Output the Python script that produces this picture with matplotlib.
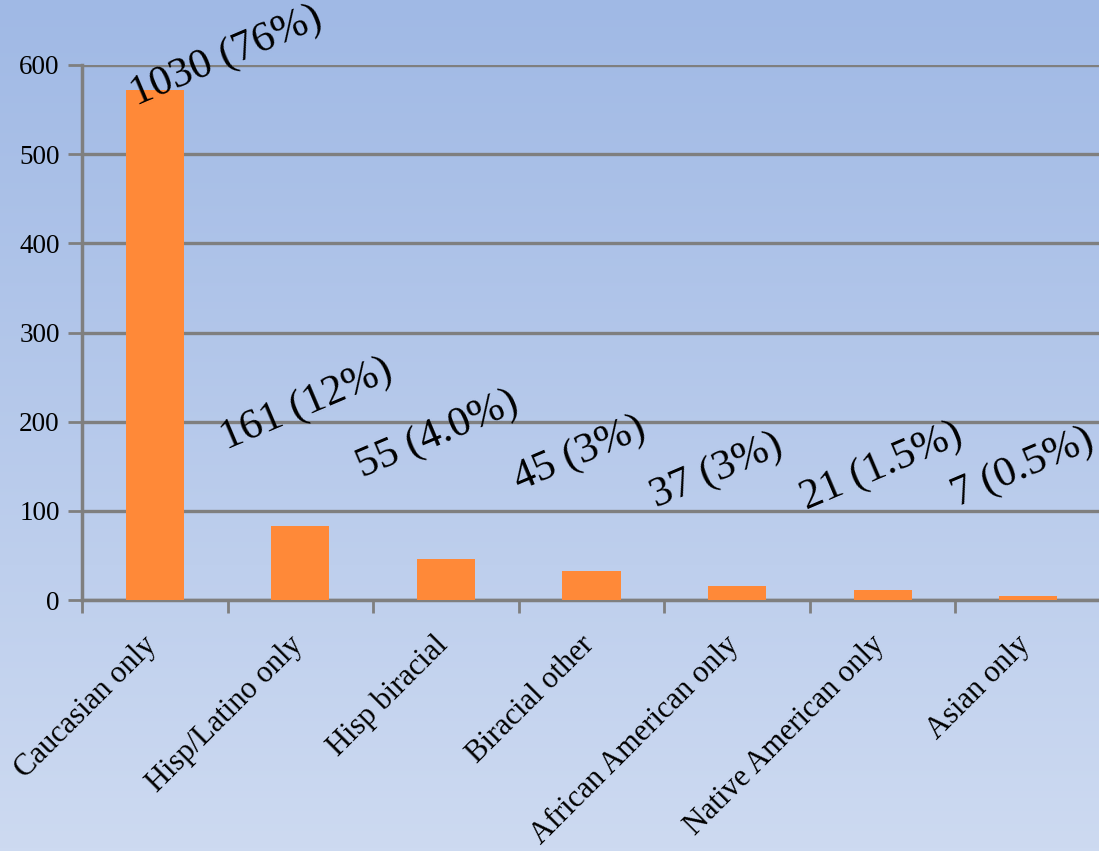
import numpy as np
import matplotlib
matplotlib.use("Agg")
import matplotlib.pyplot as plt
from matplotlib.colors import LinearSegmentedColormap
from matplotlib.transforms import ScaledTranslation

# ---- data ----
categories = ["Caucasian only", "Hisp/Latino only", "Hisp biracial", "Biracial other",
              "African American only", "Native American only", "Asian only"]
values = [572, 83, 46, 32.5, 15.7, 11.5, 4.5]
labels = ["1030 (76%)", "161 (12%)", "55 (4.0%)", "45 (3%)", "37 (3%)", "21 (1.5%)", "7 (0.5%)"]
yticks = [0, 100, 200, 300, 400, 500, 600]

# ---- layout (label centres in data coords) ----
label_x = [0.49, 1.04, 1.94, 2.92, 3.86, 4.99, 5.96]
label_y = [610, 219, 185, 164, 145, 150, 148]

plt.rcParams['font.family'] = ['Liberation Serif', 'DejaVu Serif']

fig = plt.figure(figsize=(10.99, 8.51), dpi=100)

# gradient background
bg = fig.add_axes([0, 0, 1, 1], zorder=0)
cmap = LinearSegmentedColormap.from_list("bg", ["#a0b9e5", "#cddaf1"])
grad = np.linspace(0, 1, 256).reshape(-1, 1)
bg.imshow(grad, aspect="auto", cmap=cmap, extent=[0, 1, 0, 1], origin="upper")
bg.axis("off")

ax = fig.add_axes([82 / 1099, 251 / 851, (1101 - 82) / 1099, 535 / 851], zorder=1)
ax.patch.set_alpha(0)

x = np.arange(len(categories))
ax.bar(x, values, width=0.40, color="#ff8938", zorder=3)

ax.set_xlim(-0.5, len(categories) - 0.5)
ax.set_ylim(0, 600)
ax.set_yticks(yticks)
ax.set_yticklabels([str(t) for t in yticks], fontsize=19.5)
ax.yaxis.grid(True, color="#7f7f7f", linewidth=2.4, zorder=1)
ax.set_axisbelow(True)

# x ticks at category boundaries, labels at centers
ax.set_xticks(np.arange(-0.5, len(categories) + 0.5, 1.0))
ax.set_xticklabels([])
ax.set_xticks(x, minor=True)
ax.set_xticklabels(categories, minor=True, rotation=45, ha="right", fontsize=22)
ax.tick_params(axis="x", which="minor", length=0, pad=22)
ax.tick_params(axis="x", which="major", length=9, width=2, color="#7f7f7f", direction="out")
ax.tick_params(axis="y", length=10, width=2, color="#7f7f7f", pad=6)
shift = ScaledTranslation(8 / 100, 0, fig.dpi_scale_trans)
for lab in ax.get_xticklabels(minor=True):
    lab.set_transform(lab.get_transform() + shift)

for s in ["top", "right"]:
    ax.spines[s].set_visible(False)
for s in ["left", "bottom"]:
    ax.spines[s].set_color("#7f7f7f")
    ax.spines[s].set_linewidth(2.5)

for lx, ly, t in zip(label_x, label_y, labels):
    ax.text(lx, ly, t, rotation=23, rotation_mode="anchor", ha="center", va="center",
            fontsize=31, color="black", zorder=5, clip_on=False)

fig.savefig("out.png", dpi=100)
